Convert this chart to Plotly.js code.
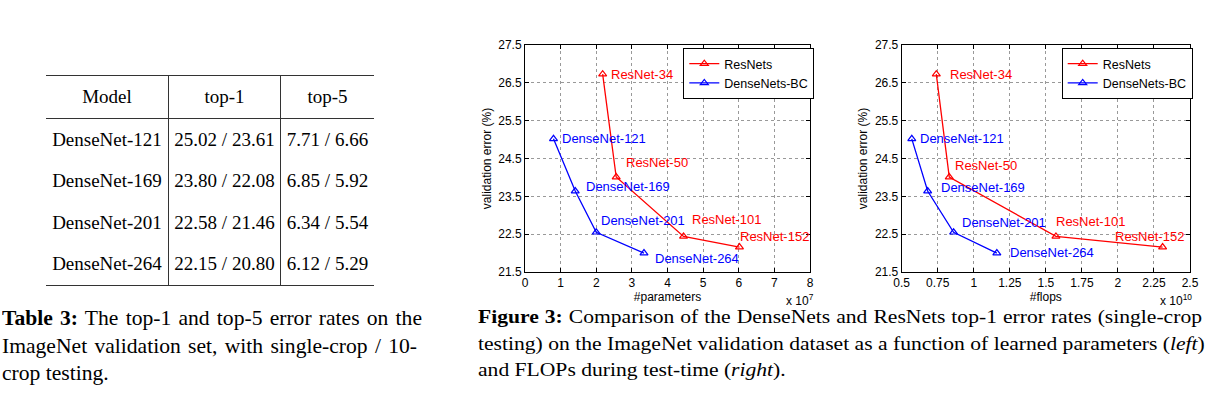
<!DOCTYPE html>
<html>
<head>
<meta charset="utf-8">
<script src="https://cdn.plot.ly/plotly-3.0.1.min.js"></script>
<style>
  html, body { margin: 0; padding: 0; background: #fff; }
  #wrap { position: relative; width: 1215px; height: 394px; overflow: hidden; }
  #chart { position: absolute; left: 0; top: 0; width: 1215px; height: 394px; }
  .serif { font-family: "Liberation Serif", "Times New Roman", serif; color: #000; }
  #tbl { position: absolute; left: 46px; top: 75px; border-collapse: collapse; font-size: 19px; }
  #tbl th, #tbl td { padding: 0; text-align: center; font-weight: normal; }
  #tbl thead tr { height: 43px; border-top: 1.5px solid #333; border-bottom: 1.5px solid #333; }
  #tbl tbody tr { height: 41.75px; }
  #tbl tbody tr:last-child { border-bottom: 1.5px solid #333; }
  #tbl .c0 { width: 122px; border-right: 1.3px solid #333; }
  #tbl .c1 { width: 111px; border-right: 1.3px solid #333; }
  #tbl .c2 { width: 93px; }
  .cap { position: absolute; transform-origin: 0 0; }
  .cap .ln { text-align: justify; text-align-last: justify; white-space: nowrap; }
  .cap .ln.last { text-align: left; text-align-last: left; }
  #cap1 { left: 2px; top: 305px; width: 420px; font-size: 21.6px; line-height: 28.2px; transform: scale(1, 0.975); }
  #cap2 { left: 478px; top: 305px; width: 724px; font-size: 21.6px; line-height: 29.9px; transform: scale(1, 0.88); }
</style>
</head>
<body>
<div id="wrap">
  <div id="chart"></div>
  <table id="tbl" class="serif"><thead><tr id="hdr"></tr></thead><tbody id="tbody"></tbody></table>
  <div id="cap1" class="cap serif">
    <div class="ln"><b>Table 3:</b> The top-1 and top-5 error rates on the</div>
    <div class="ln" style="width:415px">ImageNet validation set, with single-crop / 10-</div>
    <div class="ln last">crop testing.</div>
  </div>
  <div id="cap2" class="cap serif">
    <div class="ln"><b>Figure 3:</b> Comparison of the DenseNets and ResNets top-1 error rates (single-crop</div>
    <div class="ln">testing) on the ImageNet validation dataset as a function of learned parameters (<i>left</i>)</div>
    <div class="ln last">and FLOPs during test-time (<i>right</i>).</div>
  </div>
</div>
<script>
// ---------- Table data ----------
const tableHeader = ['Model', 'top-1', 'top-5'];
const tableModels = ['DenseNet-121', 'DenseNet-169', 'DenseNet-201', 'DenseNet-264'];
const tableTop1 = ['25.02 / 23.61', '23.80 / 22.08', '22.58 / 21.46', '22.15 / 20.80'];
const tableTop5 = ['7.71 / 6.66', '6.85 / 5.92', '6.34 / 5.54', '6.12 / 5.29'];

// ---------- Chart data ----------
const resnetNames = ['ResNet-34', 'ResNet-50', 'ResNet-101', 'ResNet-152'];
const resnetParams = [2.18, 2.56, 4.45, 6.02];   // x 10^7
const resnetFlops = [0.74, 0.83, 1.57, 2.31];    // x 10^10
const resnetErr = [26.73, 24.01, 22.44, 22.16];

const densenetNames = ['DenseNet-121', 'DenseNet-169', 'DenseNet-201', 'DenseNet-264'];
const densenetParams = [0.80, 1.41, 2.00, 3.34]; // x 10^7
const densenetFlops = [0.57, 0.68, 0.86, 1.16];  // x 10^10
const densenetErr = [25.02, 23.64, 22.55, 22.00];

const yTicks = [21.5, 22.5, 23.5, 24.5, 25.5, 26.5, 27.5];
const xTicksParams = [0, 1, 2, 3, 4, 5, 6, 7, 8];
const xTicksFlops = [0.5, 0.75, 1, 1.25, 1.5, 1.75, 2, 2.25, 2.5];
const xTickTextFlops = ['0.5', '0.75', '1', '1.25', '1.5', '1.75', '2', '2.25', '2.5'];

// ---------- Build table ----------
const hdr = document.getElementById('hdr');
tableHeader.forEach((h, i) => { const th = document.createElement('th'); th.className = 'c' + i; th.textContent = h; hdr.appendChild(th); });
const tbody = document.getElementById('tbody');
tableModels.forEach((m, r) => {
  const tr = document.createElement('tr');
  [m, tableTop1[r], tableTop5[r]].forEach((v, i) => { const td = document.createElement('td'); td.className = 'c' + i; td.textContent = v; tr.appendChild(td); });
  tbody.appendChild(tr);
});

// ---------- Chart ----------
const W = 1215, H = 394;
const px = x => x / W, py = y => 1 - y / H;
const RED = '#ff0000', BLUE = '#0000ff';
const sansFont = 'Liberation Sans, Arial, Helvetica, sans-serif';

function series(x, y, name, color, xa, ya, legend) {
  return {
    type: 'scatter', mode: 'lines+markers', x: x, y: y, name: name,
    xaxis: xa, yaxis: ya, legend: legend,
    line: { color: color, width: 1.3 },
    marker: { symbol: 'triangle-up-open', size: 7, color: color, line: { color: color, width: 1.2 } },
    hoverinfo: 'skip'
  };
}

const traces = [
  series(resnetParams, resnetErr, 'ResNets', RED, 'x', 'y', 'legend'),
  series(densenetParams, densenetErr, 'DenseNets-BC', BLUE, 'x', 'y', 'legend'),
  series(resnetFlops, resnetErr, 'ResNets', RED, 'x2', 'y2', 'legend2'),
  series(densenetFlops, densenetErr, 'DenseNets-BC', BLUE, 'x2', 'y2', 'legend2')
];

// label offsets (pixels) relative to each point
const shiftResParams = [[6, 0], [8, 15], [6.5, 16.5], [-1, 10.5]];
const shiftDenParams = [[6.5, 0], [9, 5], [3, 12], [9, -5]];
const shiftResFlops = [[11.5, 0], [4, 12], [-2, 15], [-50, 11]];
const shiftDenFlops = [[6.5, 0], [11, 4], [6, 10], [11, 1]];

const annotations = [];
function addLabels(xs, ys, names, shifts, color, xref, yref) {
  xs.forEach((xv, i) => {
    annotations.push({
      x: xv, y: ys[i], xref: xref, yref: yref, text: names[i], showarrow: false,
      xanchor: 'left', yanchor: 'middle', xshift: shifts[i][0], yshift: shifts[i][1],
      font: { family: sansFont, size: 13, color: color }
    });
  });
}
addLabels(resnetParams, resnetErr, resnetNames, shiftResParams, RED, 'x', 'y');
addLabels(densenetParams, densenetErr, densenetNames, shiftDenParams, BLUE, 'x', 'y');
addLabels(resnetFlops, resnetErr, resnetNames, shiftResFlops, RED, 'x2', 'y2');
addLabels(densenetFlops, densenetErr, densenetNames, shiftDenFlops, BLUE, 'x2', 'y2');

// exponent notes
annotations.push({ xref: 'paper', yref: 'paper', x: px(784), y: py(300), xanchor: 'left', yanchor: 'middle', showarrow: false,
  text: 'x 10<sup>7</sup>', font: { family: sansFont, size: 12, color: '#000' } });
annotations.push({ xref: 'paper', yref: 'paper', x: px(1158), y: py(300), xanchor: 'left', yanchor: 'middle', showarrow: false,
  text: 'x 10<sup>10</sup>', font: { family: sansFont, size: 12, color: '#000' } });

const tickFont = { family: sansFont, size: 12, color: '#000' };
function axisBase() {
  return {
    showline: true, linecolor: '#000', linewidth: 1, mirror: 'allticks',
    ticks: 'inside', ticklen: 4, tickcolor: '#000', tickwidth: 1,
    showgrid: true, gridcolor: '#999999', griddash: 'dot', gridwidth: 1,
    zeroline: false, tickfont: tickFont, fixedrange: true, automargin: false
  };
}
const xDom1 = [px(525), px(810)], xDom2 = [px(901.7), px(1190)], yDom = [py(272), py(45)];

const legendBase = { xanchor: 'left', yanchor: 'top', xref: 'paper', yref: 'paper',
  bgcolor: '#fff', bordercolor: '#000', borderwidth: 1, font: { family: sansFont, size: 12.5, color: '#000' },
  tracegroupgap: 0, itemwidth: 30 };

const layout = {
  width: W, height: H, margin: { l: 0, r: 0, t: 0, b: 0 },
  paper_bgcolor: '#fff', plot_bgcolor: '#fff',
  font: { family: sansFont, size: 12, color: '#000' },
  showlegend: true,
  xaxis: Object.assign(axisBase(), { domain: xDom1, range: [0, 8], tickvals: xTicksParams, anchor: 'y',
    title: { text: '#parameters', font: tickFont, standoff: 2 } }),
  yaxis: Object.assign(axisBase(), { domain: yDom, range: [21.5, 27.5], tickvals: yTicks, ticktext: yTicks.map(v => v.toFixed(1)), anchor: 'x',
    title: { text: 'validation error (%)', font: tickFont, standoff: 4 } }),
  xaxis2: Object.assign(axisBase(), { domain: xDom2, range: [0.5, 2.5], tickvals: xTicksFlops, ticktext: xTickTextFlops, anchor: 'y2',
    title: { text: '#flops', font: tickFont, standoff: 2 } }),
  yaxis2: Object.assign(axisBase(), { domain: yDom, range: [21.5, 27.5], tickvals: yTicks, ticktext: yTicks.map(v => v.toFixed(1)), anchor: 'x2',
    title: { text: 'validation error (%)', font: tickFont, standoff: 4 } }),
  legend: Object.assign({}, legendBase, { x: px(683.3), y: py(48) }),
  legend2: Object.assign({}, legendBase, { x: px(1061.7), y: py(48) }),
  annotations: annotations
};

Plotly.newPlot('chart', traces, layout, { displayModeBar: false, staticPlot: true });
</script>
</body>
</html>
